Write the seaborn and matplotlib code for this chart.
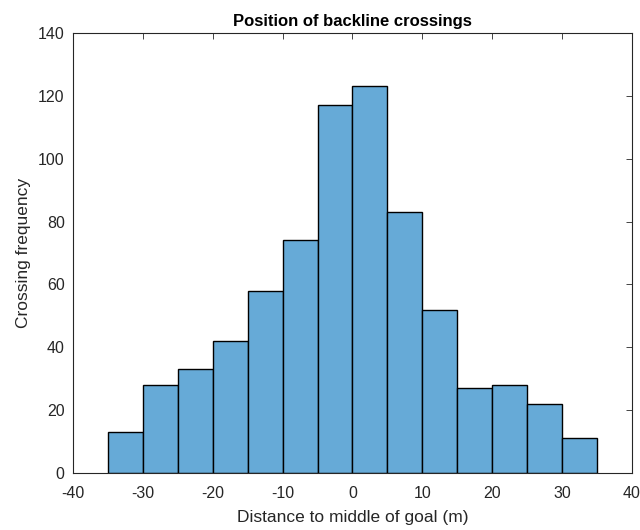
import numpy as np
import pandas as pd
import seaborn as sns
import matplotlib
matplotlib.use("Agg")
import matplotlib.pyplot as plt

# bin edges and counts
bin_edges = [-35, -30, -25, -20, -15, -10, -5, 0, 5, 10, 15, 20, 25, 30, 35]
counts = [13, 28, 33, 42, 58, 74, 117, 123, 83, 52, 27, 28, 22, 11]
x_ticks = [-40, -30, -20, -10, 0, 10, 20, 30, 40]
y_ticks = [0, 20, 40, 60, 80, 100, 120, 140]

centers = [(a + b) / 2 for a, b in zip(bin_edges[:-1], bin_edges[1:])]
df = pd.DataFrame({"distance": centers, "count": counts})

sns.set_style("white")
plt.rcParams['font.family'] = ['Liberation Sans', 'DejaVu Sans']
plt.rcParams['axes.unicode_minus'] = False

fig = plt.figure(figsize=(6.4, 5.3), dpi=100)
ax = fig.add_axes([0.114, 0.1075, 0.8735, 0.8302])

sns.histplot(data=df, x="distance", weights="count", bins=bin_edges, ax=ax,
             color="#66AAD7", alpha=1, edgecolor="black", linewidth=1.0)

ax.set_xlim(-40, 40)
ax.set_ylim(0, 140)
ax.set_xticks(x_ticks)
ax.set_yticks(y_ticks)
ax.tick_params(axis='x', pad=9)
ax.tick_params(axis='y', pad=6)
ax.tick_params(axis='both', direction='in', length=4, width=0.6, labelsize=11.5,
               colors='#262626', top=True, right=True)
for s in ax.spines.values():
    s.set_visible(True)
    s.set_linewidth(0.8)
    s.set_color('#262626')

ax.set_title("Position of backline crossings", fontsize=12, fontweight='bold',
             color='black', pad=5)
ax.set_xlabel("Distance to middle of goal (m)", fontsize=12.5, color='#262626', labelpad=7)
ax.set_ylabel("Crossing frequency", fontsize=12.5, color='#262626', labelpad=5)

fig.savefig("out.png", dpi=100)
